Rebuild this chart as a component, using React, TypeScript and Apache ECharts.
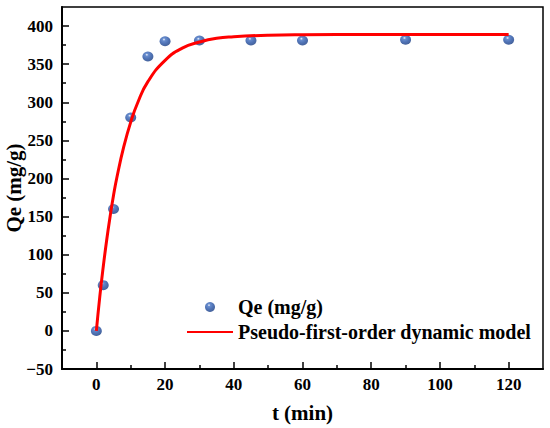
import React, { useEffect, useRef } from 'react';
import * as echarts from 'echarts';

const timeMin = [0, 2, 5, 10, 15, 20, 30, 45, 60, 90, 120];
const qeValues = [0, 60, 160, 280, 360, 380, 381, 381, 381, 382, 382];
const fitTime = [0, 1, 2, 3, 4, 5, 6, 8, 10, 12, 15, 20, 25, 30, 35, 40, 50, 60, 80, 100, 120];
const fitQe = [0, 45, 84, 119, 150, 178, 202, 242, 274, 299, 327, 355, 371, 379, 384, 386, 388, 388.7, 389, 389, 389];
const xTickLabels = [0, 20, 40, 60, 80, 100, 120];
const xMinorTicks = [10, 30, 50, 70, 90, 110];
const yTickLabels = [-50, 0, 50, 100, 150, 200, 250, 300, 350, 400];
const yMinorTicks = [-25, 25, 75, 125, 175, 225, 275, 325, 375];

const FONT = 'Liberation Serif';

export default function App() {
  const ref = useRef<HTMLDivElement>(null);
  useEffect(() => {
    if (!ref.current) return;
    const chart = echarts.init(ref.current, null, { renderer: 'svg' });
    const ball = {
      type: 'radial',
      x: 0.4,
      y: 0.32,
      r: 0.7,
      colorStops: [
        { offset: 0, color: '#f4f7fd' },
        { offset: 0.2, color: '#4270c2' },
        { offset: 0.6, color: '#234fa2' },
        { offset: 1, color: '#163a80' },
      ],
    };
    const labelStyle = { color: '#000', fontWeight: 'bold', fontSize: 17, fontFamily: FONT };
    chart.setOption({
      animation: false,
      backgroundColor: '#fff',
      grid: {
        left: 62,
        right: 7,
        top: 7,
        bottom: 59,
        containLabel: false,
        outerBoundsMode: 'none',
        show: true,
        borderColor: '#000',
        borderWidth: 1.5,
        backgroundColor: 'transparent',
      },
      legend: {
        orient: 'vertical',
        left: 181,
        top: 292,
        itemWidth: 46,
        itemHeight: 10,
        itemGap: 5,
        textStyle: { color: '#000', fontWeight: 'bold', fontSize: 20, fontFamily: FONT },
        data: [
          { name: 'Qe (mg/g)', icon: 'circle' },
          { name: 'Pseudo-first-order dynamic model', itemStyle: { opacity: 0 } },
        ],
      },
      xAxis: [
        {
          type: 'value',
          min: -10,
          max: 130,
          interval: 10,
          position: 'bottom',
          name: 't (min)',
          nameLocation: 'middle',
          nameGap: 33,
          nameMoveOverlap: false,
          nameTextStyle: { color: '#000', fontWeight: 'bold', fontSize: 21, fontFamily: FONT },
          axisLine: { show: true, onZero: false, lineStyle: { color: '#000', width: 2 } },
          axisTick: { show: true, inside: true, length: 7, customValues: xTickLabels, lineStyle: { color: '#000', width: 1.5 } },
          axisLabel: { ...labelStyle, margin: 7, customValues: xTickLabels },
          splitLine: { show: false },
        },
        {
          type: 'value',
          min: -10,
          max: 130,
          interval: 10,
          position: 'bottom',
          offset: 0,
          axisLine: { show: false, onZero: false },
          axisTick: { show: true, inside: true, length: 4, customValues: xMinorTicks, lineStyle: { color: '#000', width: 1.5 } },
          axisLabel: { show: false },
          splitLine: { show: false },
        },
      ],
      yAxis: [
        {
          type: 'value',
          min: -50,
          max: 425,
          interval: 25,
          position: 'left',
          name: 'Qe (mg/g)',
          nameLocation: 'middle',
          nameGap: 38,
          nameMoveOverlap: false,
          nameTextStyle: { color: '#000', fontWeight: 'bold', fontSize: 21, fontFamily: FONT },
          axisLine: { show: true, onZero: false, lineStyle: { color: '#000', width: 2 } },
          axisTick: { show: true, inside: true, length: 7, customValues: yTickLabels, lineStyle: { color: '#000', width: 1.5 } },
          axisLabel: {
            ...labelStyle,
            margin: 9,
            customValues: yTickLabels,
            formatter: (v: number) => (v < 0 ? '\u2212' + Math.abs(v) : String(v)),
          },
          splitLine: { show: false },
        },
        {
          type: 'value',
          min: -50,
          max: 425,
          interval: 25,
          position: 'left',
          offset: 0,
          axisLine: { show: false, onZero: false },
          axisTick: { show: true, inside: true, length: 4, customValues: yMinorTicks, lineStyle: { color: '#000', width: 1.5 } },
          axisLabel: { show: false },
          splitLine: { show: false },
        },
      ],
      series: [
        {
          name: 'Qe (mg/g)',
          type: 'scatter',
          xAxisIndex: 0,
          yAxisIndex: 0,
          symbol: 'circle',
          symbolSize: [11, 10],
          itemStyle: { color: ball },
          data: timeMin.map((t, i) => [t, qeValues[i]]),
          z: 2,
        },
        {
          name: 'Pseudo-first-order dynamic model',
          type: 'line',
          xAxisIndex: 0,
          yAxisIndex: 0,
          smooth: true,
          symbol: 'none',
          lineStyle: { color: '#ff0000', width: 3 },
          itemStyle: { color: '#ff0000' },
          data: fitTime.map((t, i) => [t, fitQe[i]]),
          z: 3,
        },
      ],
    });
    return () => chart.dispose();
  }, []);
  return <div ref={ref} style={{ position: 'fixed', left: 0, top: 0, width: 550, height: 428 }} />;
}
